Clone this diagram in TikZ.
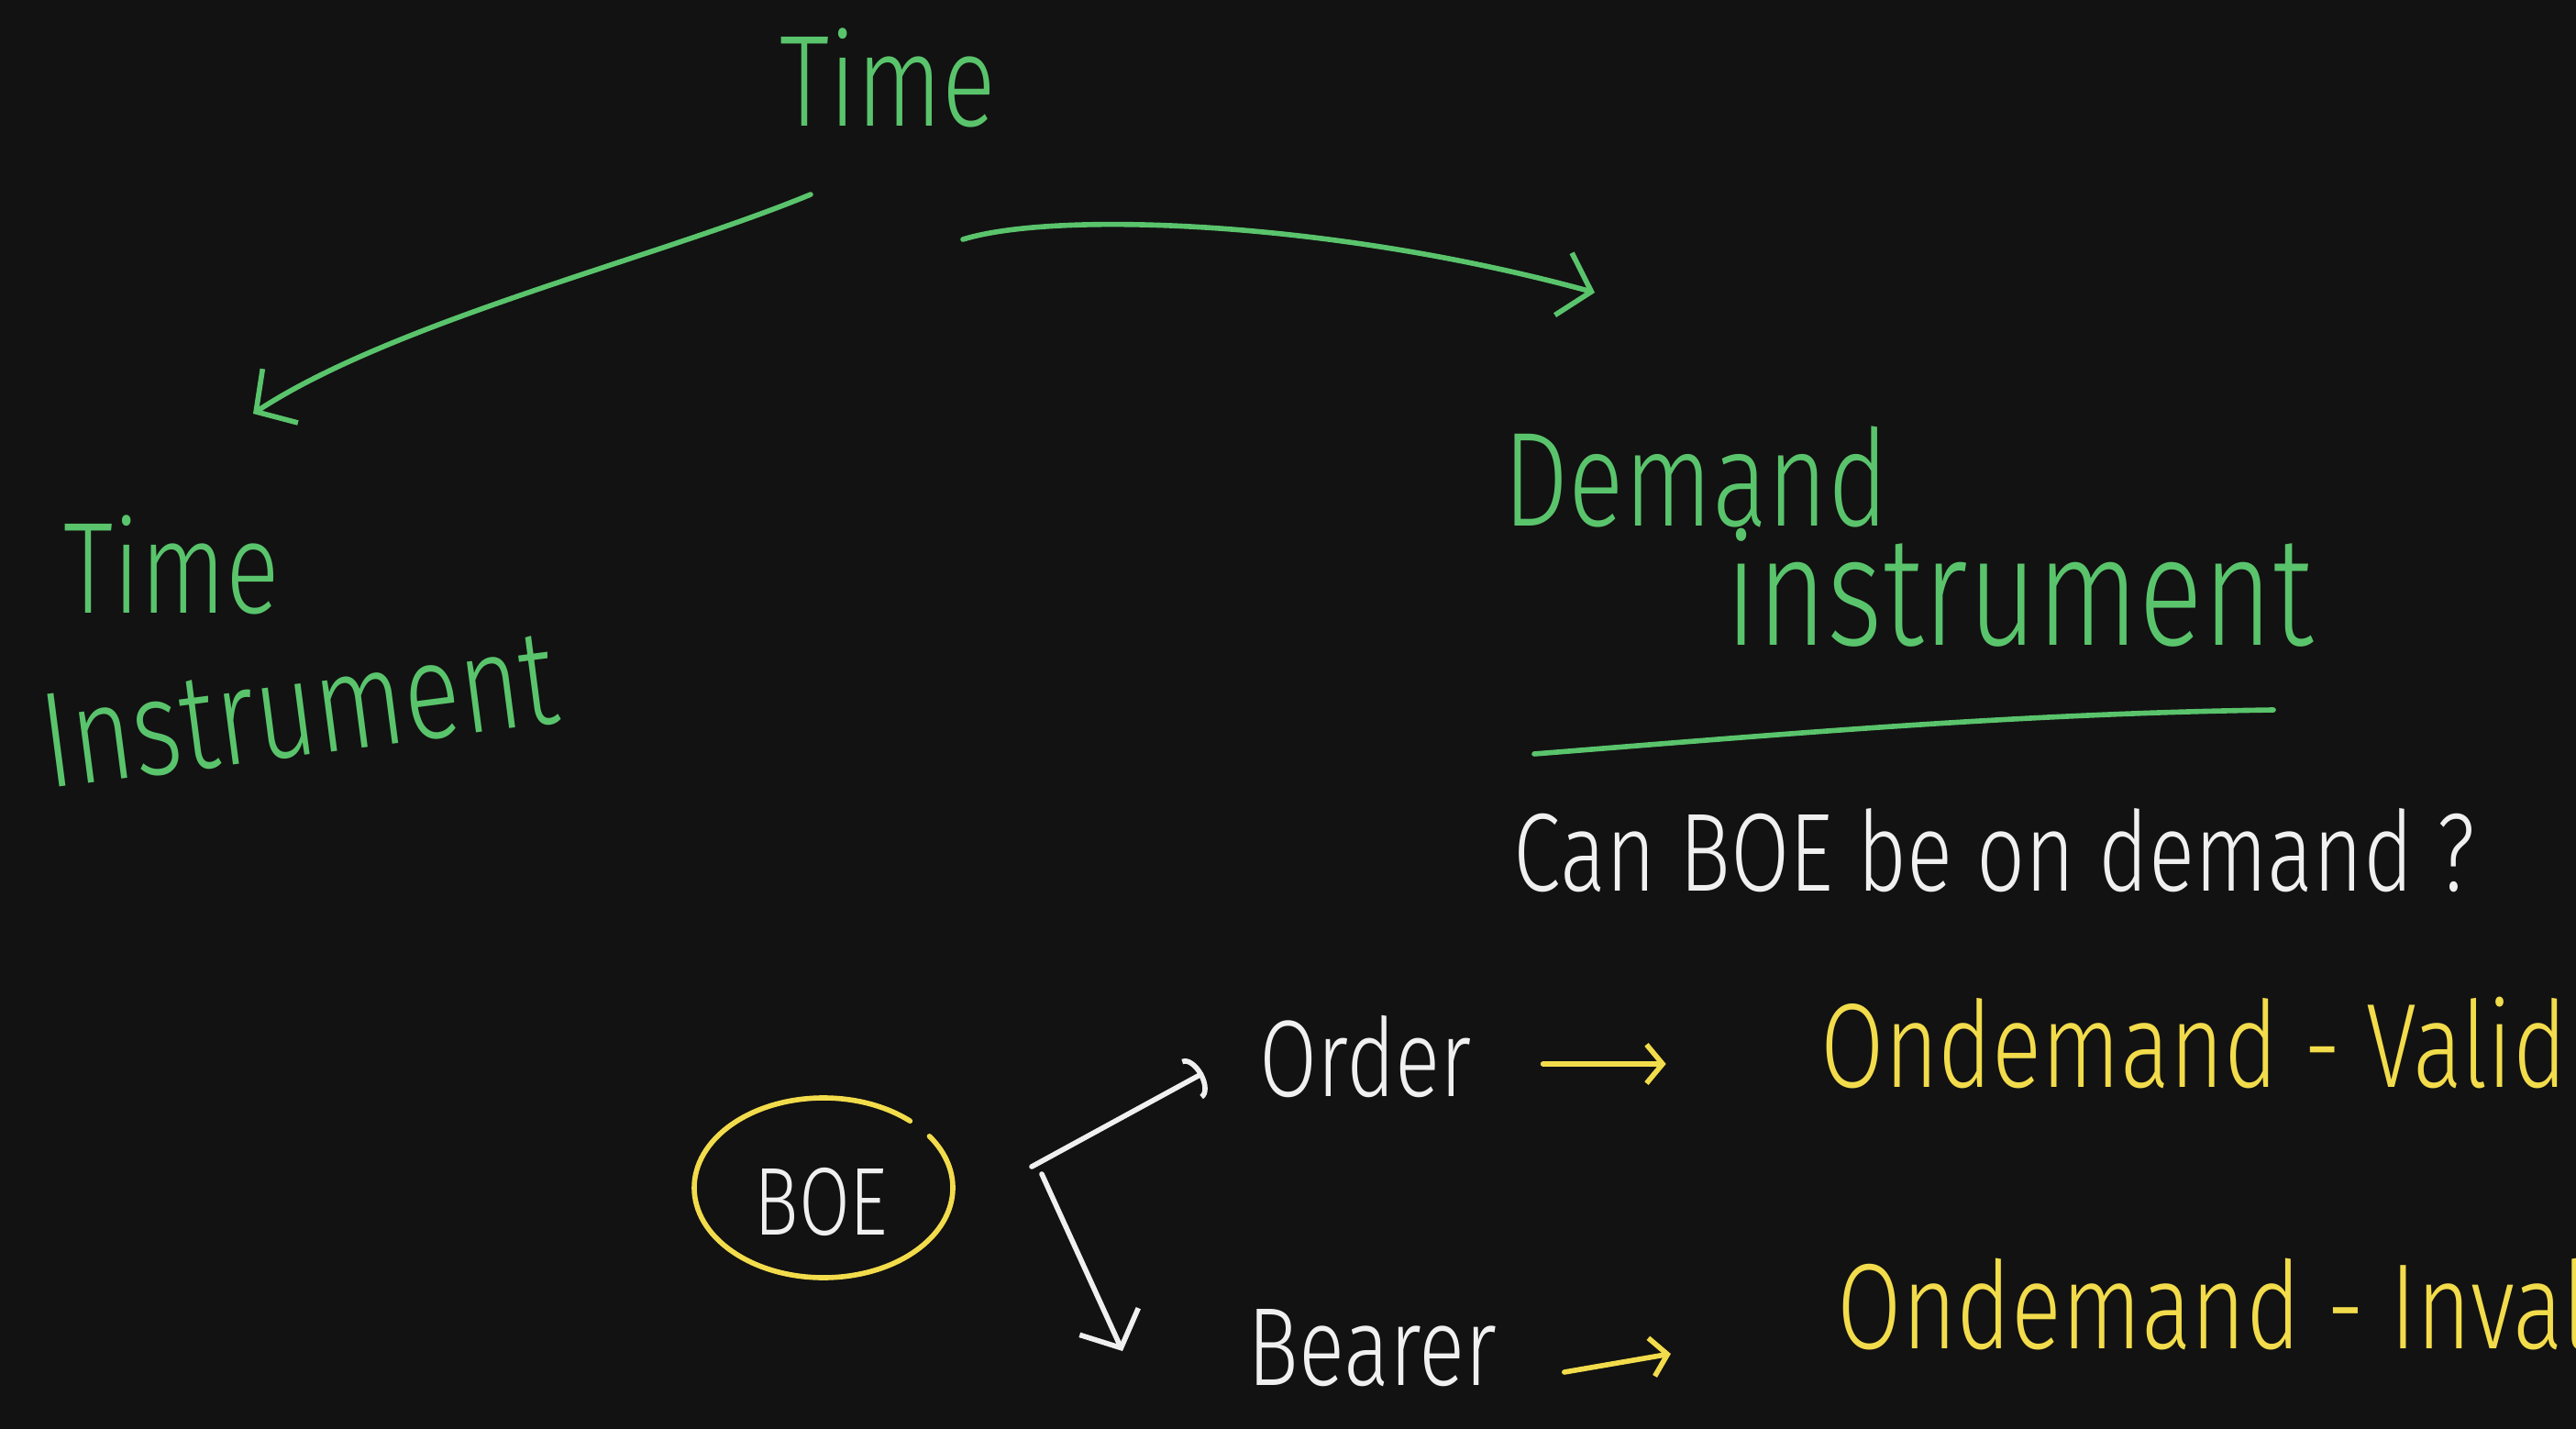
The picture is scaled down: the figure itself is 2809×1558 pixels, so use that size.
\documentclass[tikz,border=0pt]{standalone}
\usepackage{graphicx}
\usepackage{fontspec}
\setmainfont{Fira Sans Light}
\usetikzlibrary{arrows.meta,calc}

\definecolor{board}{HTML}{121212}
\definecolor{chalkgreen}{HTML}{5AC46C}
\definecolor{chalkyellow}{HTML}{F2DC4B}
\definecolor{chalkwhite}{HTML}{F0F0F0}

% hand-lettered text: size in pt, stretched a little upward
\newcommand\hand[2]{{\fontsize{#1}{#1}\selectfont\scalebox{1}[1.3]{#2}}}

\begin{document}
\begin{tikzpicture}[x=0.01cm,y=-0.01cm,line cap=round,line join=round,
  pen/.style={line width=1.6pt},
  barb/.style={-{Straight Barb[length=9pt,width=20pt]}},
  smallbarb/.style={-{Straight Barb[length=5pt,width=12pt]}},
  arcbarb/.style={-{Arc Barb[length=4pt,width=14pt]}},
  lbl/.style={inner sep=0pt,anchor=base west},
  greentxt/.style={lbl,text=chalkgreen},
  whitetxt/.style={lbl,text=chalkwhite},
  yellowtxt/.style={lbl,text=chalkyellow}]

\fill[board] (0,0) rectangle (2809,1558);
\clip (0,0) rectangle (2809,1558);

% headings
\node[greentxt] (time) at (850,138) {\hand{31}{Time}};
\node[greentxt] (timeinst) at (69,668) {\hand{31}{Time}};
\node[greentxt,rotate=7.4] (timeinst2) at (52,860) {\hand{32.5}{Instrument}};
\node[greentxt] (demand) at (1639,573) {\hand{32}{Demand}};
\node[greentxt] (demand2) at (1881,703) {\hand{37}{instrument}};
\node[whitetxt] (question) at (1650,971) {\hand{26.5}{Can BOE be on demand ?}};

% BOE and its two kinds
\node[whitetxt] (boe) at (822,1346) {\hand{23}{BOE}};
\node[whitetxt] (order) at (1373,1195) {\hand{26}{Order}};
\node[whitetxt] (bearer) at (1360,1510) {\hand{26.5}{Bearer}};
\node[yellowtxt] (valid) at (1985,1185) {\hand{28.6}{Ondemand - Valid}};
\node[yellowtxt] (invalid) at (2003,1470) {\hand{29}{Ondemand - Invalid}};

% connector ends
\coordinate (tl0) at (884,212);
\coordinate (tl1) at (276,451);
\coordinate (tr0) at (1050,261);
\coordinate (tr1) at (1739,319);
\coordinate (ul0) at (1673,822);
\coordinate (ul1) at (2479,774);
\coordinate (ring) at (898,1295);
\coordinate (fork) at (1125,1272);
\coordinate (fork2) at (1136,1280);
\coordinate (ordtip) at (1312,1170);
\coordinate (beartip) at (1224,1473);

% arrows out of "Time"
\draw[pen,chalkgreen,barb] (tl0) .. controls (720,280) and (430,350) .. (tl1);
\draw[pen,chalkgreen,barb] (tr0) .. controls (1150,230) and (1450,240) .. (tr1);

% underline of "Demand instrument"
\draw[pen,chalkgreen] (ul0) .. controls (1950,800) and (2200,778) .. (ul1);

% ring around BOE, left open at the top right
\draw[pen,chalkyellow] ([shift={(-48:141 and 98)}]ring)
  arc[start angle=-48,end angle=-395,x radius=141,y radius=98];

% fork to Order and Bearer
\draw[pen,chalkwhite,arcbarb] (fork) -- (ordtip);
\draw[pen,chalkwhite,barb] (fork2) -- (beartip);

% results
\draw[pen,chalkyellow,smallbarb] ($(order.base east)+(0.77cm,0.35cm)$) -- ++(1.34cm,0);
\draw[pen,chalkyellow,smallbarb] ($(bearer.base east)+(0.73cm,0.14cm)$) -- ++(1.16cm,0.2cm);
\end{tikzpicture}
\end{document}
